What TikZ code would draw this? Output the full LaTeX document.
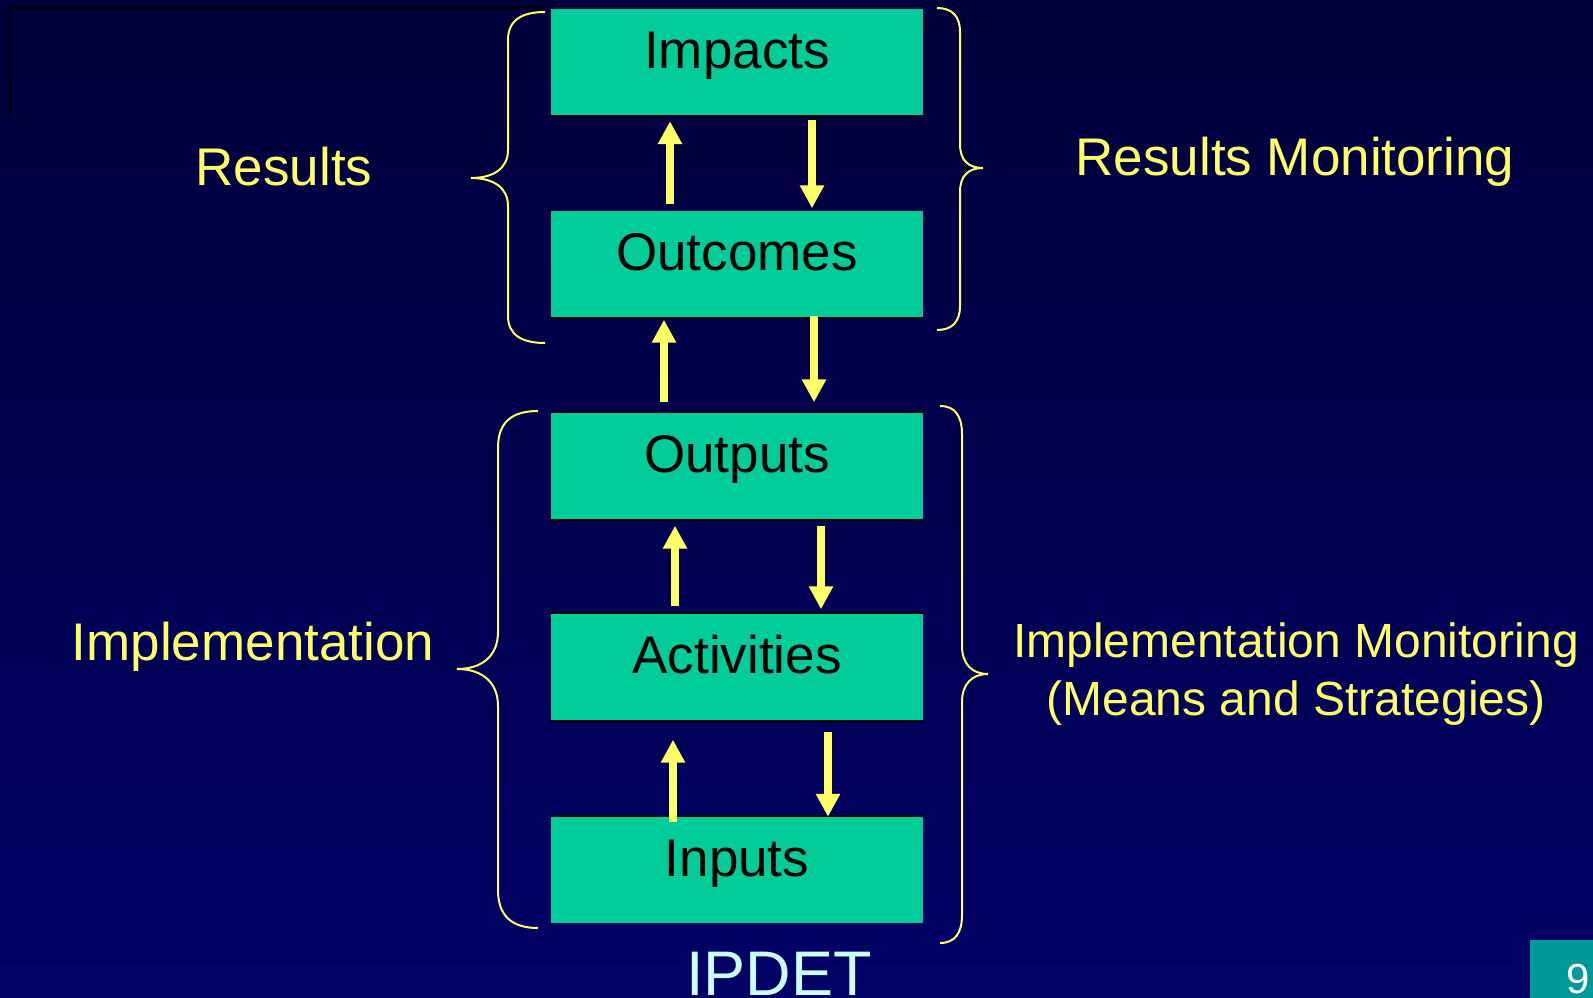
\documentclass[tikz,border=0pt]{standalone}
\usepackage{fontspec}
\setmainfont{Liberation Sans}
\usetikzlibrary{arrows.meta}
\definecolor{bgtop}{RGB}{0,0,58}
\definecolor{bgbot}{RGB}{0,0,102}
\definecolor{boxgreen}{RGB}{0,204,153}
\definecolor{ylw}{RGB}{255,255,102}
\definecolor{ipdetcol}{RGB}{204,255,255}
\definecolor{tealnum}{RGB}{0,153,153}
\begin{document}
\begin{tikzpicture}[x=1pt,y=-1pt,
  stagebox/.style={rectangle, fill=boxgreen, minimum width=372pt, minimum height=107pt, inner sep=0pt, text=black, font=\fontsize{53}{60}\selectfont, text height=38pt, text depth=25pt},
  flowarrow/.style={draw=ylw, line width=8pt, -{Triangle[width=23pt,length=23pt]}},
  bracepath/.style={draw=ylw, line width=2pt},
  shadowline/.style={draw=black, line width=2pt},
  sidelabel/.style={text=ylw, font=\fontsize{53}{60}\selectfont, anchor=base, inner sep=0pt},
  smalllabel/.style={sidelabel, font=\fontsize{48}{58}\selectfont}
]
\useasboundingbox (0,0) rectangle (1593,998);
\shade[top color=bgtop, bottom color=bgbot] (0,0) rectangle (1593,998);

% top-left frame line
\draw[black, line width=2.5pt] (10,117) -- (10,8) -- (545,8);

% braces
\draw[bracepath] (545,12) .. controls (522,12) and (508,20) .. (508,40) -- (508,150) .. controls (508,168) and (494,178) .. (471,178) .. controls (494,178) and (508,188) .. (508,206) -- (508,316) .. controls (508,335) and (522,343) .. (545,343);
\draw[bracepath] (538,411) .. controls (512,411) and (498,422) .. (498,448) -- (498,632) .. controls (498,656) and (482,669) .. (457,669) .. controls (482,669) and (498,682) .. (498,706) -- (498,890) .. controls (498,916) and (512,928) .. (538,928);
\draw[bracepath] (937,8) .. controls (952,8) and (960,16) .. (960,32) -- (960,144) .. controls (960,160) and (968,168) .. (983,168) .. controls (968,168) and (960,176) .. (960,192) -- (960,306) .. controls (960,322) and (952,330) .. (937,330);
\draw[bracepath] (940,406) .. controls (955,406) and (962,416) .. (962,434) -- (962,646) .. controls (962,664) and (972,674) .. (988,674) .. controls (972,674) and (962,684) .. (962,702) -- (962,915) .. controls (962,933) and (955,943) .. (940,943);

% boxes
\node[stagebox] (impacts) at (737,62.5) {Impacts};
\node[stagebox] (outcomes) at (737,264) {Outcomes};
\node[stagebox] (outputs) at (737,466) {Outputs};
\node[stagebox] (activities) at (737,667) {Activities};
\node[stagebox] (inputs) at (737,869.5) {Inputs};
\draw[shadowline] (impacts.south west) -- (impacts.south east);
\draw[shadowline] (outcomes.south west) -- (outcomes.south east);
\draw[shadowline] (outputs.north west) -- (outputs.north east);
\draw[shadowline] (outputs.south west) -- (outputs.south east);
\draw[shadowline] (activities.north west) -- (activities.north east);
\draw[shadowline] (activities.south west) -- (activities.south east);
\draw[shadowline] (inputs.north west) -- (inputs.north east);

% arrows
\draw[flowarrow, shorten <=6pt, shorten >=5pt] ([xshift=-67pt]outcomes.north) -- ([xshift=-67pt]impacts.south);
\draw[flowarrow, shorten <=4pt, shorten >=2pt] ([xshift=75pt]impacts.south) -- ([xshift=75pt]outcomes.north);
\draw[flowarrow, shorten <=10pt, shorten >=2pt] ([xshift=-73pt]outputs.north) -- ([xshift=-73pt]outcomes.south);
\draw[flowarrow, shorten <=-2pt, shorten >=10pt] ([xshift=77pt]outcomes.south) -- ([xshift=77pt]outputs.north);
\draw[flowarrow, shorten <=7pt, shorten >=6pt] ([xshift=-62pt]activities.north) -- ([xshift=-62pt]outputs.south);
\draw[flowarrow, shorten <=6pt, shorten >=4pt] ([xshift=84pt]outputs.south) -- ([xshift=84pt]activities.north);
\draw[flowarrow, shorten <=-6pt, shorten >=19pt] ([xshift=-64pt]inputs.north) -- ([xshift=-64pt]activities.south);
\draw[flowarrow, shorten <=11pt, shorten >=-1pt] ([xshift=91pt]activities.south) -- ([xshift=91pt]inputs.north);

% labels
\node[sidelabel] (results) at (284,185) {Results};
\node[sidelabel] (impl) at (253,660) {Implementation};
\node[sidelabel] (resmon) at (1295,175) {Results Monitoring};
\node[smalllabel] (implmonA) at (1296,657) {Implementation Monitoring};
\node[smalllabel] (implmonB) at (1296,715) {(Means and Strategies)};

% footer
\node[anchor=base, inner sep=0pt, text=ipdetcol, font=\fontsize{63}{70}\selectfont] (ipdet) at (779,995) {IPDET};
\fill[tealnum] (1530,940) rectangle (1593,998);
\node[anchor=base, inner sep=0pt, text=white, font=\fontsize{42}{48}\selectfont] (pagenum) at (1578,993) {9};
\end{tikzpicture}
\end{document}
